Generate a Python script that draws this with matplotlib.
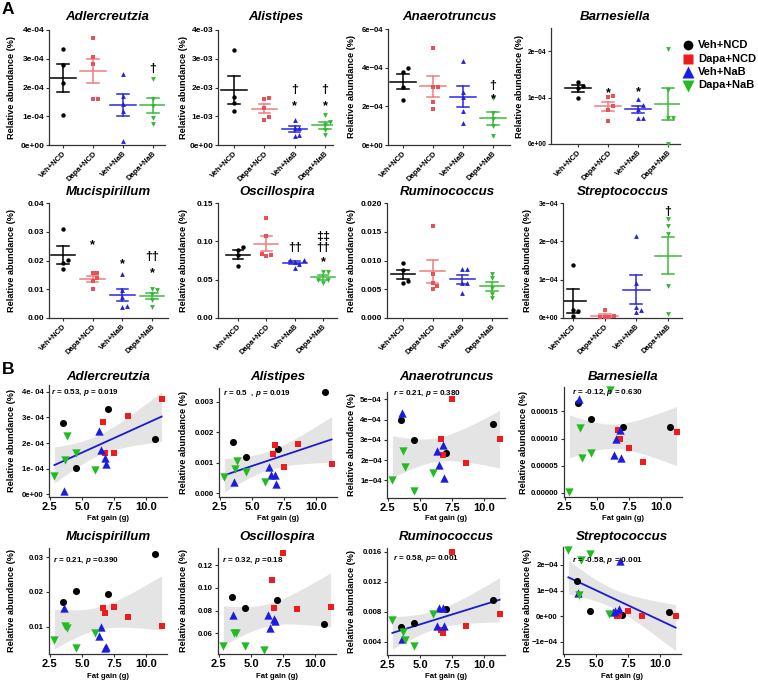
import numpy as np
import matplotlib
matplotlib.use("Agg")
import matplotlib.pyplot as plt

plt.rcParams['font.family'] = ['Liberation Sans', 'DejaVu Sans']
plt.rcParams['font.weight'] = 'bold'
plt.rcParams['mathtext.fontset'] = 'custom'
plt.rcParams['mathtext.it'] = 'Liberation Sans:italic:bold'
plt.rcParams['mathtext.rm'] = 'Liberation Sans:bold'

# ---------------- data ----------------
groups = ["Veh+NCD", "Dapa+NCD", "Veh+NaB", "Dapa+NaB"]
genera = ["Adlercreutzia", "Alistipes", "Anaerotruncus", "Barnesiella",
          "Mucispirillum", "Oscillospira", "Ruminococcus", "Streptococcus"]

# fat gain (g) of each mouse, per group
fat_veh_ncd = [3.5, 4.5, 7.0, 10.7]
fat_dapa_ncd = [6.6, 6.8, 7.5, 8.6, 11.2]
fat_veh_nab = [3.6, 6.3, 6.45, 6.8, 6.9]
fat_dapa_nab = [2.85, 3.65, 3.85, 4.55, 6.0]

# relative abundance (%) per genus:
# [Veh+NCD, Dapa+NCD, Veh+NaB, Dapa+NaB], same mouse order as the fat gain lists
adlercreutzia = [[2.78e-4, 1.03e-4, 3.33e-4, 2.16e-4],
                 [2.83e-4, 1.60e-4, 1.60e-4, 3.07e-4, 3.73e-4],
                 [0.15e-4, 2.47e-4, 1.72e-4, 1.42e-4, 1.20e-4],
                 [0.72e-4, 1.35e-4, 2.28e-4, 1.60e-4, 0.95e-4]]
alistipes = [[1.67e-3, 1.18e-3, 1.45e-3, 3.32e-3],
             [1.29e-3, 1.59e-3, 0.86e-3, 1.62e-3, 0.97e-3],
             [0.36e-3, 0.86e-3, 0.60e-3, 0.60e-3, 0.31e-3],
             [0.53e-3, 0.80e-3, 1.04e-3, 0.69e-3, 0.35e-3]]
anaerotruncus = [[3.97e-4, 2.99e-4, 2.33e-4, 3.80e-4],
                 [3.02e-4, 2.25e-4, 5.03e-4, 1.84e-4, 3.02e-4],
                 [4.33e-4, 2.47e-4, 1.75e-4, 2.76e-4, 1.13e-4],
                 [1.00e-4, 2.45e-4, 1.68e-4, 0.46e-4, 1.36e-4]]
barnesiella = [[1.65e-4, 1.37e-4, 1.21e-4, 1.22e-4],
               [1.16e-4, 1.00e-4, 0.82e-4, 0.57e-4, 1.13e-4],
               [1.73e-4, 0.70e-4, 0.99e-4, 1.15e-4, 0.65e-4],
               [0.02e-4, 1.19e-4, 0.64e-4, 0.74e-4, 1.89e-4]]
mucispirillum = [[0.0170, 0.0203, 0.0193, 0.0310],
                 [0.0155, 0.0140, 0.0158, 0.0128, 0.0102],
                 [0.0153, 0.0073, 0.0098, 0.0038, 0.0040],
                 [0.0062, 0.0102, 0.0097, 0.0038, 0.0083]]
oscillospira = [[0.092, 0.082, 0.089, 0.068],
                [0.107, 0.0825, 0.131, 0.081, 0.083],
                [0.076, 0.076, 0.065, 0.0725, 0.0705],
                [0.049, 0.0605, 0.0605, 0.049, 0.0457]]
ruminococcus = [[0.0060, 0.0065, 0.0083, 0.0095],
                [0.0056, 0.0051, 0.0160, 0.0061, 0.0077],
                [0.0043, 0.0061, 0.0085, 0.0085, 0.0061],
                [0.0069, 0.0053, 0.0042, 0.0034, 0.0077]]
streptococcus = [[1.38e-4, 0.20e-4, 0.06e-4, 0.17e-4],
                 [0.02e-4, 0.05e-4, 0.20e-4, 0.02e-4, 0.02e-4],
                 [0.90e-4, 0.15e-4, 0.20e-4, 0.28e-4, 2.15e-4],
                 [2.57e-4, 0.84e-4, 2.20e-4, 2.41e-4, 0.10e-4]]

# Barnesiella (differs from panel B)
barnesiella_a = [[1.34e-4, 1.26e-4, 1.21e-4, 0.99e-4],
                 [1.01e-4, 1.03e-4, 0.81e-4, 0.74e-4, 0.50e-4],
                 [0.98e-4, 0.84e-4, 0.76e-4, 0.57e-4, 0.57e-4],
                 [2.05e-4, 1.17e-4, 0.57e-4, 0.55e-4, 0.01e-4]]

# correlation statistics printed in panel B
stats_text = [r"$r$ = 0.53, $p$ = 0.019", r"$r$ = 0.5  , $p$ = 0.019",
              r"$r$ = 0.21, $p$ = 0.380", r"$r$ = -0.12, $p$ = 0.630",
              r"$r$ = 0.21, $p$ =0.390", r"$r$ = 0.32, $p$ =0.18",
              r"$r$ = 0.58, $p$= 0.001", r"$r$ = -0.58, $p$ = 0.001"]
show_fit_line = [True, True, False, False, False, False, True, True]

# significance marks in panel A: (genus index, group index, symbol, y value)
sig_marks = [(0, 3, "\u2020", 2.67e-4),
             (1, 2, "\u2020", 1.94e-3), (1, 2, "*", 1.45e-3),
             (1, 3, "\u2020", 1.94e-3), (1, 3, "*", 1.45e-3),
             (2, 3, "\u2020", 3.1e-4), (2, 3, "*", 2.5e-4),
             (3, 1, "*", 1.16e-4), (3, 2, "*", 1.17e-4),
             (4, 1, "*", 0.0262), (4, 2, "*", 0.0198),
             (4, 3, "\u2020\u2020", 0.0213), (4, 3, "*", 0.0165),
             (5, 2, "\u2020\u2020", 0.0925),
             (5, 3, "\u2021\u2021", 0.107), (5, 3, "\u2020\u2020", 0.0925), (5, 3, "*", 0.076),
             (7, 3, "\u2020", 2.78e-4)]

M = "\u2212"
a_yticks = [[0, 1e-4, 2e-4, 3e-4, 4e-4], [0, 1e-3, 2e-3, 3e-3, 4e-3],
            [0, 2e-4, 4e-4, 6e-4], [0, 1e-4, 2e-4],
            [0, 0.01, 0.02, 0.03, 0.04], [0, 0.05, 0.10, 0.15],
            [0, 0.005, 0.010, 0.015, 0.020], [0, 1e-4, 2e-4, 3e-4]]
a_yticklabels = [["0e+00", "1e-04", "2e-04", "3e-04", "4e-04"],
                 ["0e+00", "1e-03", "2e-03", "3e-03", "4e-03"],
                 ["0e+00", "2e" + M + "04", "4e" + M + "04", "6e" + M + "04"],
                 ["0e+00", "1e" + M + "04", "2e" + M + "04"],
                 ["0.00", "0.01", "0.02", "0.03", "0.04"],
                 ["0.00", "0.05", "0.10", "0.15"],
                 ["0.000", "0.005", "0.010", "0.015", "0.020"],
                 ["0e+00", "1e" + M + "04", "2e" + M + "04", "3e" + M + "04"]]
b_yticks = [[0, 1e-4, 2e-4, 3e-4, 4e-4], [0, 0.001, 0.002, 0.003],
            [1e-4, 2e-4, 3e-4, 4e-4, 5e-4], [0, 5e-5, 1e-4, 1.5e-4],
            [0.01, 0.02, 0.03], [0.06, 0.08, 0.10, 0.12],
            [0.004, 0.008, 0.012, 0.016], [-1e-4, 0, 1e-4, 2e-4]]
b_yticklabels = [["0e+00", "1e- 04", "2e- 04", "3e- 04", "4e- 04"],
                 ["0.000", "0.001", "0.002", "0.003"],
                 ["1e" + M + "04", "2e" + M + "04", "3e" + M + "04", "4e" + M + "04", "5e" + M + "04"],
                 ["0.00000", "0.00005", "0.00010", "0.00015"],
                 ["0.01", "0.02", "0.03"],
                 ["0.06", "0.08", "0.10", "0.12"],
                 ["0.004", "0.008", "0.012", "0.016"],
                 [M + "1e" + M + "04", "0e+00", "1e" + M + "04", "2e" + M + "04"]]
b_xticks = [2.5, 5.0, 7.5, 10.0]

# ---------------- style / layout ----------------
W, H = 758, 683
fig = plt.figure(figsize=(W / 100, H / 100), dpi=100)


def px_rect(l, t, r, b):
    return [l / W, 1 - b / H, (r - l) / W, (b - t) / H]


all_data = [adlercreutzia, alistipes, anaerotruncus, barnesiella,
            mucispirillum, oscillospira, ruminococcus, streptococcus]
a_data = [adlercreutzia, alistipes, anaerotruncus, barnesiella_a,
          mucispirillum, oscillospira, ruminococcus, streptococcus]
fat = [fat_veh_ncd, fat_dapa_ncd, fat_veh_nab, fat_dapa_nab]

markers = ["o", "s", "^", "v"]
a_pt_colors = ["#000000", "#E8505A", "#2222D8", "#33B833"]
a_line_colors = ["#000000", "#F07C7C", "#2828DC", "#3CBB3C"]
b_colors = ["#000000", "#EE1C1C", "#1C1CE0", "#22BB22"]
a_sizes = [10, 9, 12, 12]
b_sizes = [26, 24, 36, 36]

# (axis left, top, axis right, bottom, first category px, last category px)
a_layout = [(49, 30, 165, 145, 63, 153), (218, 30, 333, 145, 234, 325),
            (388, 29, 510, 145, 403, 493), (551, 28, 680, 144, 578, 668),
            (49, 203, 168, 318, 63, 152), (218, 203, 337, 318, 238, 323),
            (387, 203, 507, 318, 403, 492), (563, 203, 682, 318, 573, 668)]
a_ylims = [(0, 4e-4), (0, 4e-3), (0, 6e-4), (0, 2.5e-4), (0, 0.04), (0, 0.15), (0, 0.02), (0, 3e-4)]
a_ytick_fs = [6, 6, 5.6, 4.8, 6, 6, 6, 5.0]
a_ylabel_x = [12, 183, 352, 519, 12, 183, 352, 527]
a_title_y = [17, 17, 17, 17, 192, 192, 192, 192]
MEAN_HW = 0.42   # half width of mean bar (category units)
CAP_HW = 0.19    # half width of SEM caps

b_layout = [(49, 385, 167, 497), (219, 388, 337, 497), (387, 392, 505, 498), (564, 387, 682, 497),
            (49, 548, 167, 654), (218, 548, 336, 654), (387, 548, 505, 655), (563, 547, 681, 654)]
b_ylims = [(-0.1e-4, 4.26e-4), (-0.00013, 0.00346), (0.13e-4, 5.36e-4), (-0.0000074, 0.000195),
           (0.0021, 0.0327), (0.0418, 0.135), (0.00223, 0.0165), (-1.48e-4, 2.70e-4)]
b_xlim = (2.43, 11.62)
b_ylabel_x = [12, 183, 352, 524, 12, 183, 352, 527]
b_title_y = [377, 377, 377, 377, 537, 537, 537, 537]
b_xlabel_y = [518, 518, 518, 518, 676, 676, 676, 676]
b_stat_pos = [(0.02, 0.93), (0.03, 0.95), (0.05, 0.99), (0.07, 0.95),
              (0.03, 0.88), (0.03, 0.88), (0.05, 0.90), (0.08, 0.87)]

SPINE = "#333333"
T975 = 2.110  # Student t quantile, 17 d.f.


def swarm_offsets(vals, px_per_y, d):
    order = np.argsort(vals)
    placed = []
    offs = np.zeros(len(vals))
    for i in order:
        y = vals[i] * px_per_y
        x = 0.0
        for c in [0, 1, -1, 2, -2, 3, -3]:
            x = c * d
            if all((x - px) ** 2 + (y - py) ** 2 >= d * d * 0.95 for px, py in placed):
                break
        placed.append((x, y))
        offs[i] = x
    return offs


# ---------------- panel A ----------------
for k, name in enumerate(genera):
    l, t, r, b, c1, c4 = a_layout[k]
    ax = fig.add_axes(px_rect(l, t, r, b))
    sp = (c4 - c1) / 3.0
    ax.set_xlim(1 - (c1 - l) / sp, 4 + (r - c4) / sp)
    ylo, yhi = a_ylims[k]
    ax.set_ylim(ylo, yhi)
    px_per_y = (b - t) / (yhi - ylo)
    for gi in range(4):
        vals = np.array(a_data[k][gi])
        offs = swarm_offsets(vals, px_per_y, 4.6) / sp
        ax.scatter(gi + 1 + offs, vals, marker=markers[gi], s=a_sizes[gi],
                   color=a_pt_colors[gi], linewidths=0, zorder=3, clip_on=False)
        m = vals.mean()
        se = vals.std(ddof=1) / np.sqrt(len(vals))
        lc = a_line_colors[gi]
        ax.plot([gi + 1 - MEAN_HW, gi + 1 + MEAN_HW], [m, m], color=lc, lw=1.1, zorder=2)
        for yy in (m - se, m + se):
            ax.plot([gi + 1 - CAP_HW, gi + 1 + CAP_HW], [yy, yy], color=lc, lw=1.1, zorder=2)
        ax.plot([gi + 1, gi + 1], [m - se, m + se], color=lc, lw=1.1, zorder=2)
    for gk, gi, sym, yv in sig_marks:
        if gk == k:
            off = -4.2 if sym == "*" else -2.6
            ax.annotate(sym, (gi + 1, yv), xytext=(0, off), textcoords="offset points",
                        ha="center", va="baseline", fontsize=9, fontweight="bold")
    ax.set_yticks(a_yticks[k])
    ax.set_yticklabels(a_yticklabels[k], fontsize=a_ytick_fs[k], fontweight="bold")
    ax.set_xticks([1, 2, 3, 4])
    ax.set_xticklabels(groups, rotation=45, ha="right", rotation_mode="anchor",
                       fontsize=5.5, fontweight="bold")
    for s in ("top", "right"):
        ax.spines[s].set_visible(False)
    for s in ("left", "bottom"):
        ax.spines[s].set_color(SPINE)
        ax.spines[s].set_linewidth(0.9)
    ax.tick_params(length=2.5, width=0.8, color=SPINE, pad=1.0)
    fig.text(a_ylabel_x[k] / W, 1 - (t + b) / 2 / H, "Relative abundance (%)", rotation=90,
             ha="center", va="center", fontsize=6.6, fontweight="bold")
    fig.text((l + r) / 2 / W, 1 - a_title_y[k] / H, name, ha="center", va="center",
             fontsize=9.5, fontweight="bold", style="italic")

# legend of panel A
lax = fig.add_axes(px_rect(676, 35, 758, 95))
lax.set_xlim(676, 758)
lax.set_ylim(95, 35)
lax.axis("off")
leg_y = [45, 58.5, 72, 85.5]
leg_ms = [9, 9, 11, 11]
for gi in range(4):
    lax.plot([688], [leg_y[gi]], marker=markers[gi], ms=leg_ms[gi] * 0.78,
             color=b_colors[gi], mec="none", clip_on=False)
    lax.text(698, leg_y[gi], groups[gi], ha="left", va="center", fontsize=8, fontweight="bold")

# ---------------- panel B ----------------
for k, name in enumerate(genera):
    l, t, r, b = b_layout[k]
    ax = fig.add_axes(px_rect(l, t, r, b))
    xs = np.concatenate([np.array(f, float) for f in fat])
    ys = np.concatenate([np.array(v, float) for v in all_data[k]])
    slope, icpt = np.polyfit(xs, ys, 1)
    grid = np.linspace(xs.min(), xs.max(), 120)
    fit = slope * grid + icpt
    n = len(xs)
    resid = ys - (slope * xs + icpt)
    s_err = np.sqrt(np.sum(resid ** 2) / (n - 2))
    sxx = np.sum((xs - xs.mean()) ** 2)
    se = s_err * np.sqrt(1.0 / n + (grid - xs.mean()) ** 2 / sxx)
    ax.fill_between(grid, fit - T975 * se, fit + T975 * se, color="#e4e4e4", lw=0, zorder=1)
    if show_fit_line[k]:
        ax.plot(grid, fit, color="#1a1ad0", lw=1.3, zorder=2)
    for gi in range(4):
        ax.scatter(fat[gi], all_data[k][gi], marker=markers[gi], s=b_sizes[gi],
                   color=b_colors[gi], linewidths=0, zorder=3, clip_on=False)
    ax.set_xlim(*b_xlim)
    ax.set_ylim(*b_ylims[k])
    ax.set_xticks(b_xticks)
    ax.set_xticklabels(["%.1f" % v for v in b_xticks], fontsize=8, fontweight="bold")
    ax.set_yticks(b_yticks[k])
    ax.set_yticklabels(b_yticklabels[k], fontsize=5.6, fontweight="bold")
    for s in ("top", "right"):
        ax.spines[s].set_visible(False)
    for s in ("left", "bottom"):
        ax.spines[s].set_color(SPINE)
        ax.spines[s].set_linewidth(0.9)
    ax.tick_params(length=2.5, width=0.8, color=SPINE, pad=1.2)
    ax.text(b_stat_pos[k][0], b_stat_pos[k][1], stats_text[k], transform=ax.transAxes,
            ha="left", va="center", fontsize=5.8, fontweight="bold", zorder=4)
    fig.text(b_ylabel_x[k] / W, 1 - (t + b) / 2 / H, "Relative abundance (%)", rotation=90,
             ha="center", va="center", fontsize=6.6, fontweight="bold")
    fig.text((l + r) / 2 / W, 1 - b_title_y[k] / H, name, ha="center", va="center",
             fontsize=9.5, fontweight="bold", style="italic")
    fig.text((l + r) / 2 / W, 1 - b_xlabel_y[k] / H, "Fat gain (g)", ha="center", va="center",
             fontsize=5.6, fontweight="bold")

fig.text(8 / W, 1 - 10 / H, "A", ha="center", va="center", fontsize=12.5, fontweight="bold")
fig.text(8 / W, 1 - 370 / H, "B", ha="center", va="center", fontsize=12.5, fontweight="bold")

fig.savefig("out.png", dpi=100)
